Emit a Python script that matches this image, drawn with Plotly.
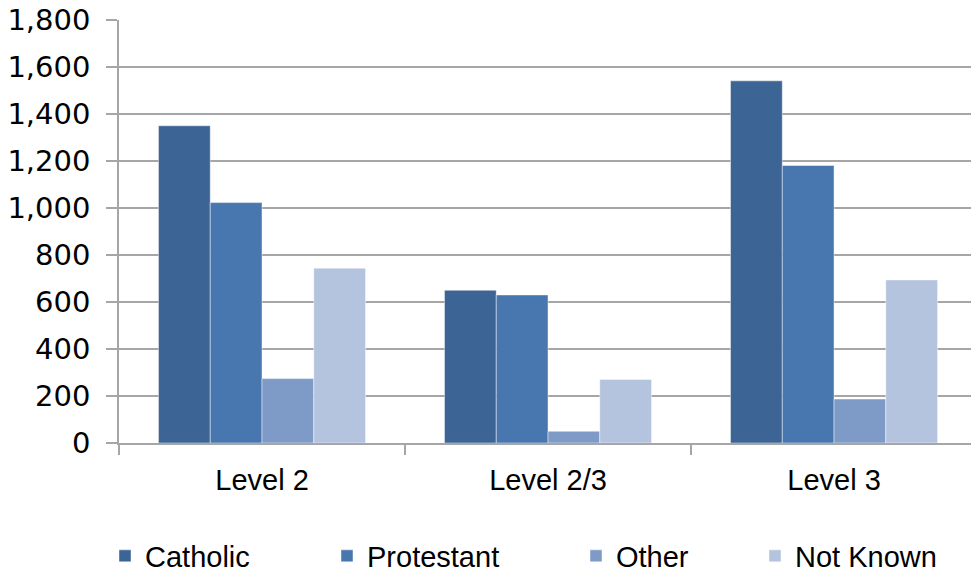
import plotly.graph_objects as go

categories = ["Level 2", "Level 2/3", "Level 3"]
catholic = [1350, 650, 1541]
protestant = [1023, 630, 1181]
other = [274, 50, 187]
not_known = [744, 270, 694]

series_names = ["Catholic", "Protestant", "Other", "Not Known"]
series_values = [catholic, protestant, other, not_known]
colors = ["#3C6494", "#4877B0", "#7E9BC8", "#B4C3DE"]

y_ticks = [0, 200, 400, 600, 800, 1000, 1200, 1400, 1600, 1800]

# plot area in pixels
L, T, W, H = 119, 20, 971, 571
B = 443
pw = W - L
ph = B - T

legend_marker_centers = [130, 352, 601, 780]
legend_names = ["legend", "legend2", "legend3", "legend4"]

fig = go.Figure()
for name, vals, col, lg in zip(series_names, series_values, colors, legend_names):
    fig.add_trace(go.Bar(
        x=categories, y=vals, name=name,
        marker=dict(color=col, line=dict(color="rgba(255,255,255,0.45)", width=1)),
        legend=lg,
    ))

legend_common = dict(
    orientation="h", yanchor="middle", xanchor="left",
    xref="container", yref="container",
    font=dict(family="Liberation Sans", size=29, color="#000000"),
    bgcolor="rgba(0,0,0,0)",
)
layout_legends = {}
for lg, cx in zip(legend_names, legend_marker_centers):
    layout_legends[lg] = dict(legend_common, x=(cx - 25) / W, y=1 - 556 / H)

fig.update_layout(
    width=W, height=H,
    margin=dict(l=L, r=0, t=T, b=H - B, pad=0, autoexpand=False),
    paper_bgcolor="white", plot_bgcolor="white",
    barmode="group", bargap=0.276, bargroupgap=0,
    showlegend=True,
    **layout_legends,
)
fig.update_xaxes(
    range=[-0.5, 2.5 - 6 / (pw / 3)],
    showline=True, linecolor="#A6A6A6", linewidth=1.5,
    ticks="outside", tickson="boundaries", ticklen=10, tickcolor="#A6A6A6", tickwidth=1.5,
    showgrid=False, ticklabelstandoff=10,
    tickfont=dict(family="Liberation Sans", size=29, color="#000000"),
)
fig.update_yaxes(
    range=[0, 1800], tickvals=y_ticks, tickformat=",",
    showline=True, linecolor="#A6A6A6", linewidth=1.5,
    ticks="outside", ticklen=11, tickcolor="#A6A6A6", tickwidth=1.5,
    showgrid=True, gridcolor="#A6A6A6", gridwidth=1.5,
    zeroline=False, ticklabelstandoff=10,
    tickfont=dict(family="DejaVu Sans", size=29, color="#000000"),
)

fig.write_html(
    "out.html",
    config={"displayModeBar": False},
    post_script="document.body.style.margin='0';document.body.style.overflow='hidden';",
)
